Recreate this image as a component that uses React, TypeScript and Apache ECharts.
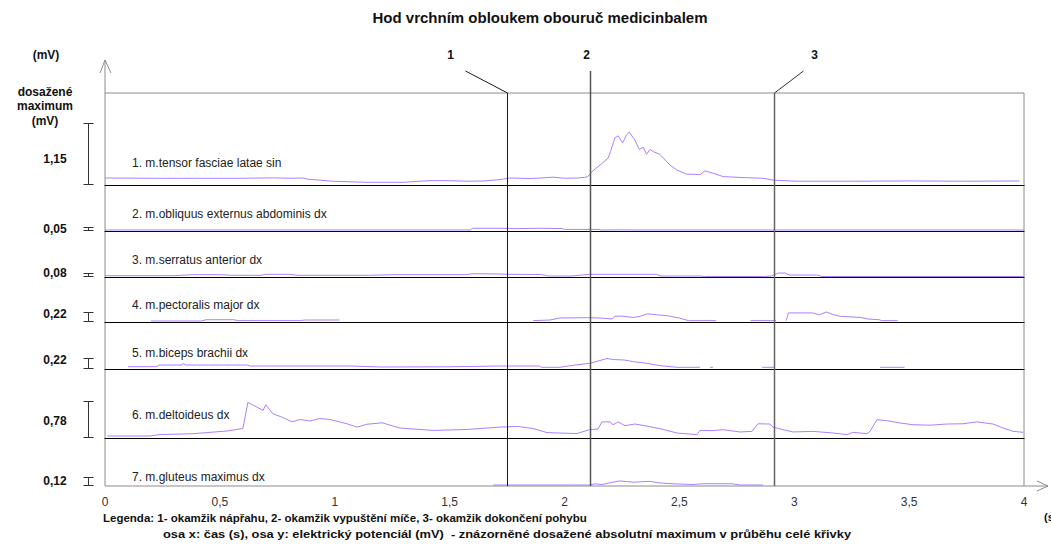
import React, { useEffect, useRef } from 'react';
import * as echarts from 'echarts';

// ---------------- data ----------------
const TITLE = 'Hod vrchním obloukem obouruč medicinbalem';
const muscleNames = [
  '1. m.tensor fasciae latae sin',
  '2. m.obliquus externus abdominis dx',
  '3. m.serratus anterior dx',
  '4. m.pectoralis major dx',
  '5. m.biceps brachii dx',
  '6. m.deltoideus dx',
  '7. m.gluteus maximus dx',
];
const maxLabels = ['1,15', '0,05', '0,08', '0,22', '0,22', '0,78', '0,12'];
const maxValues = [1.15, 0.05, 0.08, 0.22, 0.22, 0.78, 0.12];
const xTickLabels = ['0', '0,5', '1', '1,5', '2', '2,5', '3', '3,5', '4'];
const eventTimes = [1.75, 2.11, 2.91];
const eventLabels = ['1', '2', '3'];
const legendLine1 = 'Legenda: 1- okamžik nápřahu, 2- okamžik vypuštění míče, 3- okamžik dokončení pohybu';
const legendLine2 = 'osa x: čas (s), osa y: elektrický potenciál (mV)  - znázorněné dosažené absolutní maximum v průběhu celé křivky';

type Pt = [number, number | '-'];

const tensor: Pt[] = [
  [0, 0.13], [0.2, 0.125], [0.4, 0.125], [0.6, 0.125], [0.73, 0.132], [0.8, 0.125], [0.86, 0.13],
  [0.88, 0.11], [0.99, 0.07], [1.14, 0.05], [1.3, 0.05], [1.41, 0.08], [1.5, 0.08], [1.58, 0.07],
  [1.65, 0.075], [1.72, 0.1], [1.76, 0.13], [1.85, 0.12], [1.9, 0.13], [1.95, 0.145], [2.0, 0.125],
  [2.06, 0.13], [2.1, 0.15], [2.12, 0.25], [2.16, 0.39], [2.19, 0.5], [2.2, 0.62], [2.22, 0.88],
  [2.234, 0.91], [2.253, 0.78], [2.27, 0.93], [2.282, 0.98], [2.307, 0.83], [2.325, 0.66],
  [2.343, 0.7], [2.357, 0.57], [2.372, 0.66], [2.386, 0.62], [2.415, 0.57], [2.459, 0.37],
  [2.488, 0.28], [2.531, 0.2], [2.56, 0.2], [2.589, 0.19], [2.611, 0.26], [2.647, 0.22],
  [2.691, 0.155], [2.793, 0.135], [2.865, 0.125], [2.91, 0.09], [3.01, 0.07], [3.24, 0.07],
  [3.5, 0.075], [3.75, 0.07], [3.98, 0.075],
];
const obliquus: Pt[] = [
  [0, 0.0125], [1.59, 0.0125], [1.6, 0.034], [1.75, 0.034], [1.78, 0.03], [1.9, 0.034], [1.99, 0.03],
  [2.0, 0.02], [2.15, 0.02], [2.16, 0.0125], [2.25, 0.015], [2.32, 0.0125], [4.0, 0.0125],
];
const serratus: Pt[] = [
  [0, 0.026], [0.3, 0.026], [0.38, 0.046], [0.5, 0.046], [0.55, 0.034], [0.68, 0.034], [0.7, 0.054],
  [0.8, 0.054], [0.84, 0.034], [1.15, 0.034], [1.25, 0.046], [1.57, 0.046], [1.6, 0.066], [1.72, 0.06],
  [1.75, 0.054], [1.9, 0.05], [1.93, 0.02], [2.03, 0.02], [2.11, 0.054], [2.4, 0.054], [2.42, 0.02],
  [2.59, 0.02], [2.61, 0.01], [2.87, 0.01], [2.9, 0.02], [2.93, 0.08], [2.96, 0.08], [2.98, 0.04],
  [3.1, 0.04], [3.12, 0.01], [4.0, 0.01],
];
const pectoralis: Pt[] = [
  [0.2, 0.022], [0.42, 0.022], [0.44, 0.05], [0.56, 0.05], [0.58, 0.03], [0.85, 0.03], [0.87, 0.044],
  [1.02, 0.044], [1.03, '-'],
  [1.864, 0.03], [1.937, 0.044], [1.98, 0.088], [2.1, 0.095], [2.155, 0.088], [2.207, 0.066],
  [2.22, 0.125], [2.25, 0.13], [2.3, 0.1], [2.33, 0.125], [2.36, 0.18], [2.4, 0.16], [2.445, 0.14],
  [2.5, 0.088], [2.54, 0.03], [2.66, 0.03], [2.67, '-'],
  [2.81, 0.03], [2.92, 0.03], [2.93, '-'],
  [2.965, 0.03], [2.975, 0.2], [3.08, 0.2], [3.11, 0.16], [3.14, 0.22], [3.17, 0.16], [3.2, 0.125],
  [3.29, 0.1], [3.32, 0.066], [3.37, 0.05], [3.38, 0.03], [3.45, 0.03],
];
const biceps: Pt[] = [
  [0.1, 0.046], [0.226, 0.046], [0.235, 0.08], [0.335, 0.08], [0.34, 0.11], [0.35, 0.08], [0.62, 0.08],
  [0.63, 0.06], [1.07, 0.06], [1.2, 0.04], [1.5, 0.045], [1.72, 0.06], [1.89, 0.06], [1.9, 0.034],
  [1.98, 0.034], [2.046, 0.08], [2.11, 0.113], [2.185, 0.21], [2.21, 0.19], [2.26, 0.18], [2.3, 0.147],
  [2.36, 0.113], [2.415, 0.067], [2.49, 0.034], [2.59, 0.034], [2.6, '-'],
  [2.633, 0.034], [2.646, 0.034], [2.65, '-'],
  [2.86, 0.034], [2.916, 0.034], [2.92, '-'],
  [3.373, 0.034], [3.48, 0.034],
];
const deltoideus: Pt[] = [
  [0.01, 0.042], [0.196, 0.042], [0.239, 0.072], [0.383, 0.09], [0.531, 0.148], [0.6, 0.2],
  [0.622, 0.75], [0.662, 0.65], [0.688, 0.58], [0.7, 0.7], [0.731, 0.51], [0.77, 0.44], [0.814, 0.34],
  [0.849, 0.39], [0.892, 0.36], [0.936, 0.41], [0.979, 0.39], [1.053, 0.3], [1.097, 0.23], [1.14, 0.29],
  [1.206, 0.32], [1.284, 0.21], [1.428, 0.16], [1.576, 0.18], [1.719, 0.23], [1.793, 0.245],
  [1.863, 0.2], [1.924, 0.114], [2.054, 0.093], [2.11, 0.177], [2.146, 0.19], [2.163, 0.34],
  [2.198, 0.34], [2.211, 0.28], [2.233, 0.34], [2.263, 0.26], [2.307, 0.295], [2.359, 0.25],
  [2.416, 0.196], [2.49, 0.105], [2.577, 0.07], [2.59, 0.16], [2.646, 0.155], [2.69, 0.175],
  [2.764, 0.127], [2.816, 0.14], [2.842, 0.3], [2.894, 0.295], [2.907, 0.23], [2.951, 0.175],
  [2.995, 0.127], [3.082, 0.14], [3.169, 0.105], [3.23, 0.07], [3.256, 0.12], [3.317, 0.09],
  [3.33, 0.14], [3.36, 0.386], [3.404, 0.365], [3.46, 0.317], [3.517, 0.28], [3.591, 0.27],
  [3.665, 0.295], [3.734, 0.3], [3.795, 0.34], [3.865, 0.295], [3.909, 0.21], [3.952, 0.14],
  [3.996, 0.12],
];
const gluteus: Pt[] = [
  [1.69, 0.013], [2.046, 0.013], [2.11, 0.013], [2.133, 0.03], [2.163, 0.02], [2.198, 0.044],
  [2.24, 0.067], [2.27, 0.06], [2.3, 0.05], [2.34, 0.058], [2.372, 0.062], [2.416, 0.04],
  [2.47, 0.03], [2.56, 0.02], [2.6, 0.03], [2.73, 0.03], [2.764, 0.013], [2.864, 0.013],
];
const traces = [tensor, obliquus, serratus, pectoralis, biceps, deltoideus, gluteus];

// ---------------- layout ----------------
const W = 1051;
const H = 555;
const PLOT_LEFT = 105;
const PLOT_W = 919;
const FRAME_TOP = 93;
const FRAME_BOTTOM = 486;
const rowTops = [123, 227, 273, 312, 358, 401, 477];
const rowBottoms = [185, 231, 277, 322, 369, 438, 486];
const nameYs = [163, 214, 260, 305, 353, 415, 477];
const maxLabelYs = [159, 229, 273, 314, 360, 421, 481];
const FONT = '"Liberation Sans", Arial, sans-serif';
const TRACE = '#ab80ff';

export default function App() {
  const ref = useRef<HTMLDivElement>(null);
  useEffect(() => {
    const chart = echarts.init(ref.current!, null, { renderer: 'svg' });
    const grids: any[] = rowTops.map((top, i) => ({
      left: PLOT_LEFT, width: PLOT_W, top, height: rowBottoms[i] - top,
    }));
    grids.push({
      left: PLOT_LEFT, width: PLOT_W, top: FRAME_TOP, height: FRAME_BOTTOM - FRAME_TOP,
      show: true, borderColor: '#8c8c8c', borderWidth: 1, backgroundColor: 'transparent',
    });
    const xAxes: any[] = traces.map((_, i) => ({
      type: 'value', gridIndex: i, min: 0, max: 4,
      axisLabel: { show: false }, axisTick: { show: false }, splitLine: { show: false },
      axisLine: { show: i < 6, onZero: false, lineStyle: { color: '#000', width: 1 } },
    }));
    xAxes.push({
      type: 'value', gridIndex: 7, min: 0, max: 4, interval: 0.5,
      axisLine: { show: false }, axisTick: { show: false }, splitLine: { show: false },
      axisLabel: {
        margin: 10, fontSize: 12, color: '#333', fontFamily: FONT,
        formatter: (v: number) => xTickLabels[Math.round(v / 0.5)] ?? '',
      },
    });
    const yAxes: any[] = traces.map((_, i) => ({
      type: 'value', gridIndex: i, min: 0, max: maxValues[i], show: false,
    }));
    yAxes.push({ type: 'value', gridIndex: 7, min: 0, max: 1, show: false });

    chart.setOption({
      animation: false,
      backgroundColor: '#fff',
      grid: grids,
      xAxis: xAxes,
      yAxis: yAxes,
      series: traces.map((d, i) => ({
        type: 'line', xAxisIndex: i, yAxisIndex: i, data: d, symbol: 'none', showSymbol: false,
        clip: false, connectNulls: false, silent: true, z: 3,
        lineStyle: { color: TRACE, width: 1 },
      })),
    });

    const g: any[] = [];
    const txt = (x: number, y: number, text: string, size: number, weight: string, align = 'left', fill = '#111', sx = 1) => ({
      type: 'text', x, y, z: 10, scaleX: sx,
      style: { text, fill, textAlign: align, textVerticalAlign: 'middle', fontSize: size, fontWeight: weight, fontFamily: FONT },
    });
    const ln = (x1: number, y1: number, x2: number, y2: number, stroke: string, lw = 1) => ({
      type: 'line', z: 9, shape: { x1, y1, x2, y2 }, style: { stroke, lineWidth: lw },
    });

    g.push(txt(540, 17, TITLE, 15, 'bold', 'center'));
    // axis arrows
    g.push(ln(PLOT_LEFT, 60, PLOT_LEFT, FRAME_TOP, '#8c8c8c'));
    g.push({ type: 'polyline', z: 9, shape: { points: [[100, 73], [PLOT_LEFT, 60], [111, 73]] }, style: { stroke: '#8c8c8c', fill: 'none', lineWidth: 1 } });
    g.push(ln(PLOT_LEFT + PLOT_W, FRAME_BOTTOM, 1048, FRAME_BOTTOM, '#8c8c8c'));
    g.push({ type: 'polyline', z: 9, shape: { points: [[1037, 481], [1048, FRAME_BOTTOM], [1037, 491]] }, style: { stroke: '#8c8c8c', fill: 'none', lineWidth: 1 } });

    // left labels
    g.push(txt(46, 55, '(mV)', 12, 'bold', 'center'));
    g.push(txt(45, 92, 'dosažené', 12, 'bold', 'center'));
    g.push(txt(45, 106, 'maximum', 12, 'bold', 'center'));
    g.push(txt(45, 121, '(mV)', 12, 'bold', 'center'));
    g.push(txt(1044, 517, '(s)', 11, 'bold', 'left'));

    // rows: names, scale bars, max labels
    traces.forEach((_, i) => {
      g.push(txt(132, nameYs[i], muscleNames[i], 12, 'normal', 'left', '#222'));
      g.push(txt(55, maxLabelYs[i], maxLabels[i], 12, 'bold', 'center'));
      const top = Math.round(chart.convertToPixel({ yAxisIndex: i } as any, maxValues[i]) as number) + 0.5;
      const bot = Math.round(chart.convertToPixel({ yAxisIndex: i } as any, 0) as number) - 0.5;
      g.push(ln(88.5, top, 88.5, bot, '#333'));
      g.push(ln(83.5, top, 93.5, top, '#333'));
      g.push(ln(83.5, bot, 93.5, bot, '#333'));
    });

    // event lines
    eventTimes.forEach((t, i) => {
      const px = Math.round(chart.convertToPixel({ xAxisIndex: 7 } as any, t) as number) + 0.5;
      if (i === 0) {
        g.push(ln(px, FRAME_TOP, px, FRAME_BOTTOM, '#1a1a1a', 1));
        g.push(ln(px - 42, 71, px, FRAME_TOP, '#1a1a1a', 1));
        g.push(txt(px - 57, 55, eventLabels[i], 12, 'bold', 'center'));
      } else if (i === 1) {
        g.push(ln(px, 71, px, FRAME_BOTTOM, '#555', 1.5));
        g.push(txt(px - 4, 55, eventLabels[i], 12, 'bold', 'center'));
      } else {
        g.push(ln(px, FRAME_TOP, px, FRAME_BOTTOM, '#666', 1.5));
        g.push(ln(px + 29, 71, px, FRAME_TOP, '#333', 1));
        g.push(txt(px + 40, 55, eventLabels[i], 12, 'bold', 'center'));
      }
    });

    // legend
    g.push(txt(103, 518, legendLine1, 11.5, 'bold', 'left', '#111', 1.0));
    g.push(txt(163, 534, legendLine2, 11.5, 'bold', 'left', '#111', 1.12));

    chart.setOption({ graphic: g });
    return () => chart.dispose();
  }, []);
  return <div ref={ref} style={{ position: 'fixed', left: 0, top: 0, width: W, height: H, background: '#fff' }} />;
}
